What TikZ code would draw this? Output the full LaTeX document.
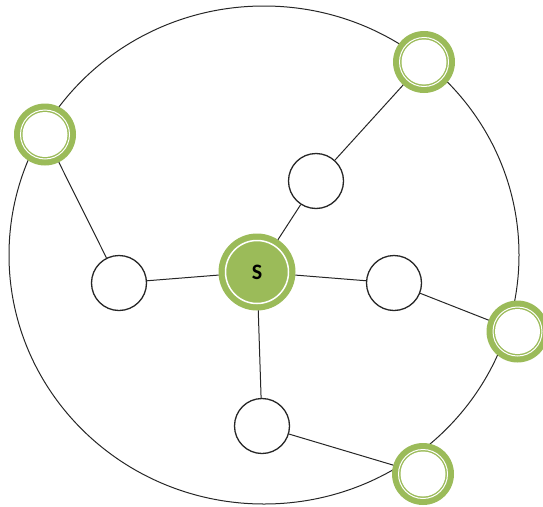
\documentclass[tikz,border=0pt]{standalone}
\usepackage{fontspec}
\setsansfont{Carlito}
\usetikzlibrary{calc}
\definecolor{netGreen}{HTML}{9BBB59}
\definecolor{netLine}{HTML}{262626}
\tikzset{
  hop/.style={circle,draw=netLine,line width=1.3pt,fill=white,minimum size=55pt,
    inner sep=0pt},
  sink/.style={circle,fill=netGreen,minimum size=62pt,inner sep=0pt,outer sep=0pt,
    path picture={\fill[white] (path picture bounding box.center) circle[radius=22.5pt];
      \draw[white,line width=1pt] (path picture bounding box.center) circle[radius=24.5pt];}},
  src/.style={circle,fill=netGreen,minimum size=77pt,inner sep=0pt,outer sep=0pt,
    font=\sffamily\bfseries\fontsize{22}{22}\selectfont,
    path picture={\draw[white,line width=1.5pt] (path picture bounding box.center) circle[radius=31.5pt];}},
  link/.style={line width=1pt,netLine}
}
\begin{document}
\begin{tikzpicture}[x=1pt,y=-1pt]
  \useasboundingbox (0,0) rectangle (543,506);
  \draw[link] (264,255) ellipse[x radius=255pt,y radius=249pt];
  \node[src] (s) at (257,272) {S};
  \node[hop] (up) at (316,181) {};
  \node[hop] (lt) at (119,283) {};
  \node[hop] (rt) at (394,283) {};
  \node[hop] (dn) at (262,426) {};
  \node[sink] (tl) at (45,134.5) {};
  \node[sink] (tr) at (424,62) {};
  \node[sink] (re) at (517.5,331.5) {};
  \node[sink] (br) at (423,474) {};
  \foreach \a/\b in {s/up,s/lt,s/rt,s/dn,up/tr,lt/tl,rt/re,dn/br}{\draw[link] (\a)--(\b);}
\end{tikzpicture}
\end{document}
